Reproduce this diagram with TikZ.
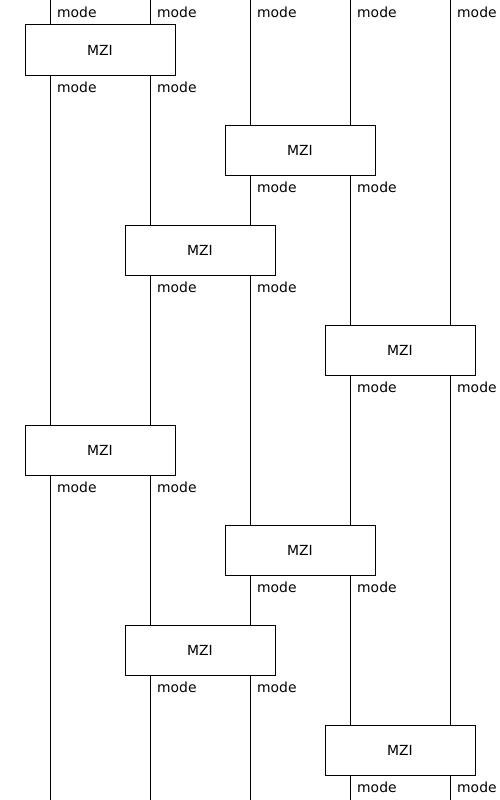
\documentclass[tikz,border=0pt]{standalone}
\usepackage{fontspec}
\setmainfont{DejaVu Sans}
\begin{document}
\begin{tikzpicture}[x=1pt,y=-1pt,
  mzibox/.style={draw=black,fill=white,line width=1pt,minimum width=150pt,minimum height=50pt,inner sep=0pt,font=\fontsize{13.9}{16}\selectfont},
  modelabel/.style={anchor=west,inner sep=0pt,font=\fontsize{13.9}{16}\selectfont},
  wire/.style={draw=black,line width=1pt}]
\useasboundingbox (0,0) rectangle (500,800);
% wire end points
\foreach \i/\x in {1/50,2/150,3/250,4/350,5/450}{
  \coordinate (t\i) at (\x,0);
  \coordinate (b\i) at (\x,800);
}
\foreach \i in {1,...,5}{ \draw[wire] (t\i) -- (b\i); }
% top labels
\foreach \i/\x in {1/50,2/150,3/250,4/350,5/450}{
  \node[modelabel] (top\i) at (\x+7,12) {mode};
}
% MZI boxes
\node[mzibox] (m1) at (100,50) {MZI};
\node[mzibox] (m2) at (300,150) {MZI};
\node[mzibox] (m3) at (200,250) {MZI};
\node[mzibox] (m4) at (400,350) {MZI};
\node[mzibox] (m5) at (100,450) {MZI};
\node[mzibox] (m6) at (300,550) {MZI};
\node[mzibox] (m7) at (200,650) {MZI};
\node[mzibox] (m8) at (400,750) {MZI};
% output labels
\foreach \n/\xa/\y in {1/50/87,2/250/187,3/150/287,4/350/387,5/50/487,6/250/587,7/150/687,8/350/787}{
  \node[modelabel] (la\n) at (\xa+7,\y) {mode};
  \node[modelabel] (lb\n) at (\xa+107,\y) {mode};
}
\end{tikzpicture}
\end{document}
